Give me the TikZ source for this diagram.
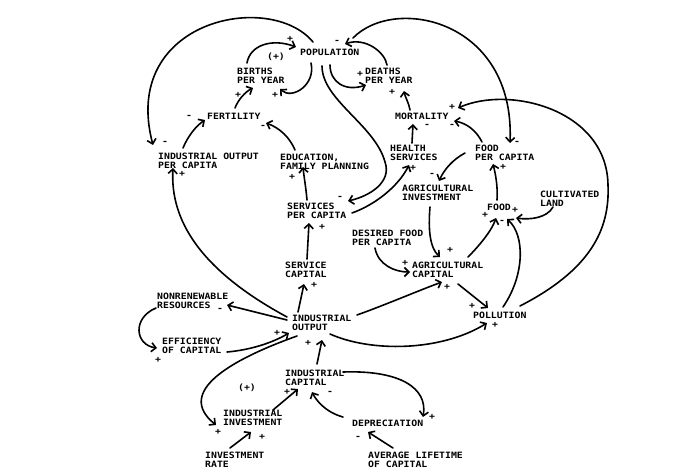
\documentclass[tikz,border=0pt]{standalone}
\usepackage{fontspec}
\newfontfamily\lgf[FakeStretch=1.13]{DejaVu Sans Mono}
\usetikzlibrary{calc,arrows.meta}
\begin{document}
\begin{tikzpicture}[x=1pt,y=-1pt,
  lbl/.style={font=\lgf\bfseries\fontsize{8.7}{9}\selectfont, align=left, inner sep=0pt, anchor=north west},
  sg/.style={font=\lgf\bfseries\fontsize{8.7}{9}\selectfont, inner sep=0pt},
  arr/.style={-{Straight Barb[length=4.5pt,width=9pt]}, line width=1.6pt, line cap=round}]
\useasboundingbox[fill=white] (0,0) rectangle (688,476);
% nodes
\node[lbl] (pop) at (300,49) {POPULATION};
\node[sg] (plA) at (276,56.5) {(+)};
\node[lbl] (births) at (237,68) {BIRTHS\\PER YEAR};
\node[lbl] (deaths) at (365,68) {DEATHS\\PER YEAR};
\node[lbl] (fert) at (207,113) {FERTILITY};
\node[lbl] (mort) at (395,113) {MORTALITY};
\node[lbl] (iopc) at (158,153) {INDUSTRIAL OUTPUT\\PER CAPITA};
\node[lbl] (edu) at (280,154) {EDUCATION,\\FAMILY PLANNING};
\node[lbl] (health) at (390,145) {HEALTH\\SERVICES};
\node[lbl] (fpc) at (475,145) {FOOD\\PER CAPITA};
\node[lbl] (ainv) at (402,185) {AGRICULTURAL\\INVESTMENT};
\node[lbl] (cland) at (540,191) {CULTIVATED\\LAND};
\node[lbl] (food) at (487,204) {FOOD};
\node[lbl] (spc) at (287,203) {SERVICES\\PER CAPITA};
\node[lbl] (dfpc) at (352,230) {DESIRED FOOD\\PER CAPITA};
\node[lbl] (scap) at (285,262) {SERVICE\\CAPITAL};
\node[lbl] (acap) at (412,262) {AGRICULTURAL\\CAPITAL};
\node[lbl] (nrr) at (157,293) {NONRENEWABLE\\RESOURCES};
\node[lbl] (io) at (292,315) {INDUSTRIAL\\OUTPUT};
\node[lbl] (poll) at (473,312) {POLLUTION};
\node[lbl] (eff) at (162,338) {EFFICIENCY\\OF CAPITAL};
\node[lbl] (icap) at (285,370) {INDUSTRIAL\\CAPITAL};
\node[sg] (plB) at (247,388) {(+)};
\node[lbl] (iinv) at (223,410) {INDUSTRIAL\\INVESTMENT};
\node[lbl] (dep) at (352,420) {DEPRECIATION};
\node[lbl] (irate) at (205,452) {INVESTMENT\\RATE};
\node[lbl] (alc) at (368,452) {AVERAGE LIFETIME\\OF CAPITAL};
% connectors
\draw[arr] ($(pop.north west)+(13,-7)$) .. controls (270,-10) and (120,20) .. ($(iopc.north west)+(-5,-8)$);
\draw[arr] ($(births.north west)+(10,-5)$) .. controls (250,45) and (272,38) .. ($(pop.north west)+(-4,-2)$);
\draw[arr] ($(pop.north west)+(11,14)$) .. controls (316,85) and (292,100) .. ($(births.north west)+(43,21)$);
\draw[arr] ($(fert.north west)+(28,-5)$) .. controls (238,100) and (245,92) .. ($(births.north west)+(16,20)$);
\draw[arr] ($(iopc.north west)+(25,-5)$) .. controls (188,136) and (196,126) .. ($(fert.north west)+(-2,7)$);
\draw[arr] ($(edu.north west)+(15,-4)$) .. controls (290,138) and (280,128) .. ($(fert.north west)+(59,10)$);
\draw[arr] ($(pop.north west)+(22,17)$) .. controls (322,100) and (375,125) .. (385,162) .. controls (392,182) and (370,196) .. ($(spc.north west)+(61,-2)$);
\draw[arr] ($(pop.north west)+(30,16)$) .. controls (330,82) and (345,92) .. ($(deaths.north west)+(1,17)$);
\draw[arr] ($(deaths.north west)+(22,-3)$) .. controls (385,52) and (365,37) .. ($(pop.north west)+(45,-5)$);
\draw[arr] ($(pop.north west)+(53,-11)$) .. controls (395,-5) and (515,20) .. ($(fpc.north west)+(35,-2)$);
\draw[arr] ($(mort.north west)+(15,-3)$) .. controls (409,103) and (405,97) .. ($(deaths.north west)+(39,23)$);
\draw[arr] ($(health.north west)+(22,-2)$) -- ($(mort.north west)+(18,11)$);
\draw[arr] ($(fpc.north west)+(7,-3)$) .. controls (476,130) and (466,123) .. ($(mort.north west)+(59,8)$);
\draw[arr] ($(poll.north west)+(47,-6)$) .. controls (590,270) and (610,230) .. (608,185) .. controls (607,110) and (510,85) .. ($(mort.north west)+(63,-5)$);
\draw[arr] ($(fpc.north west)+(-10,8)$) .. controls (452,160) and (444,170) .. ($(ainv.north west)+(37,-4)$);
\draw[arr] ($(food.north west)+(10,-4)$) .. controls (498,185) and (495,172) .. ($(fpc.north west)+(18,19)$);
\draw[arr] ($(spc.north west)+(65,10)$) .. controls (377,204) and (399,185) .. ($(health.north west)+(19,20)$);
\draw[arr] ($(spc.north west)+(20,-3)$) .. controls (306,188) and (304,177) .. ($(edu.north west)+(23,13)$);
\draw[arr] ($(scap.north west)+(22,-3)$) -- ($(spc.north west)+(22,20)$);
\draw[arr] ($(io.north west)+(6,-3)$) -- ($(scap.north west)+(19,22)$);
\draw[arr] ($(io.north west)+(-5,2)$) .. controls (200,270) and (170,220) .. ($(iopc.north west)+(15,15)$);
\draw[arr] ($(io.north west)+(-5,5)$) -- ($(nrr.north west)+(70,12)$);
\draw[arr] ($(nrr.north west)+(-1,15)$) .. controls (132,318) and (135,345) .. ($(eff.north west)+(-5,10)$);
\draw[arr] ($(eff.north west)+(65,14)$) .. controls (250,350) and (272,343) .. ($(io.north west)+(-3,18)$);
\draw[arr] ($(io.north west)+(65,0)$) .. controls (385,305) and (420,290) .. ($(acap.north west)+(30,20)$);
\draw[arr] ($(io.north west)+(38,19)$) .. controls (370,352) and (440,352) .. ($(poll.north west)+(14,11)$);
\draw[arr] ($(acap.north west)+(46,22)$) .. controls (468,292) and (478,300) .. ($(poll.north west)+(15,-4)$);
\draw[arr] ($(ainv.north west)+(28,22)$) .. controls (428,230) and (430,248) .. ($(acap.north west)+(28,-5)$);
\draw[arr] ($(dfpc.north west)+(23,18)$) .. controls (378,265) and (395,272) .. ($(acap.north west)+(-2,10)$);
\draw[arr] ($(acap.north west)+(56,-5)$) .. controls (480,245) and (492,230) .. ($(food.north west)+(9,14)$);
\draw[arr] ($(cland.north west)+(13,16)$) .. controls (547,218) and (530,220) .. ($(food.north west)+(29,14)$);
\draw[arr] ($(poll.north west)+(30,-5)$) .. controls (525,275) and (525,235) .. ($(food.north west)+(20,15)$);
\draw[arr] ($(icap.north west)+(32,-6)$) -- ($(io.north west)+(30,25)$);
\draw[arr] ($(io.north west)+(5,21)$) .. controls (230,360) and (175,392) .. ($(iinv.north west)+(-7,15)$);
\draw[arr] ($(iinv.north west)+(50,0)$) -- ($(icap.north west)+(13,19)$);
\draw[arr] ($(dep.north west)+(-9,-3)$) .. controls (325,412) and (316,400) .. ($(icap.north west)+(27,22)$);
\draw[arr] ($(icap.north west)+(58,2)$) .. controls (400,370) and (428,388) .. ($(dep.north west)+(71,-3)$);
\draw[arr] ($(irate.north west)+(25,-4)$) -- ($(iinv.north west)+(28,22)$);
\draw[arr] ($(alc.north west)+(25,-4)$) -- ($(dep.north west)+(16,12)$);
% signs
\node[sg] (s1) at (290,39) {+};
\node[sg] (s2) at (165,143) {-};
\node[sg] (s3) at (275,95) {+};
\node[sg] (s4) at (238,95) {+};
\node[sg] (s5) at (189,117) {-};
\node[sg] (s6) at (263,127) {-};
\node[sg] (s7) at (340,198) {-};
\node[sg] (s8) at (360,74) {+};
\node[sg] (s9) at (337,42) {-};
\node[sg] (s10) at (517,143) {-};
\node[sg] (s11) at (392,92) {+};
\node[sg] (s12) at (427,125.5) {-};
\node[sg] (s13) at (452,126) {-};
\node[sg] (s14) at (452,107) {+};
\node[sg] (s15) at (432,175) {-};
\node[sg] (s16) at (503,167) {+};
\node[sg] (s17) at (413,168) {+};
\node[sg] (s18) at (292,177) {+};
\node[sg] (s19) at (322,227) {+};
\node[sg] (s20) at (314,285) {+};
\node[sg] (s21) at (182,174) {+};
\node[sg] (s22) at (220,310) {-};
\node[sg] (s23) at (158,360) {+};
\node[sg] (s24) at (277,333) {+};
\node[sg] (s25) at (447,287) {+};
\node[sg] (s26) at (495,325) {+};
\node[sg] (s27) at (472,306) {+};
\node[sg] (s28) at (450,250) {+};
\node[sg] (s29) at (405,263) {+};
\node[sg] (s30) at (485,215) {+};
\node[sg] (s31) at (515,210) {+};
\node[sg] (s32) at (502,222) {-};
\node[sg] (s33) at (308,343) {+};
\node[sg] (s34) at (218,432) {+};
\node[sg] (s35) at (287,392) {+};
\node[sg] (s36) at (330,393) {-};
\node[sg] (s37) at (432,417) {+};
\node[sg] (s38) at (262,437) {+};
\node[sg] (s39) at (358,438) {-};
\end{tikzpicture}
\end{document}
